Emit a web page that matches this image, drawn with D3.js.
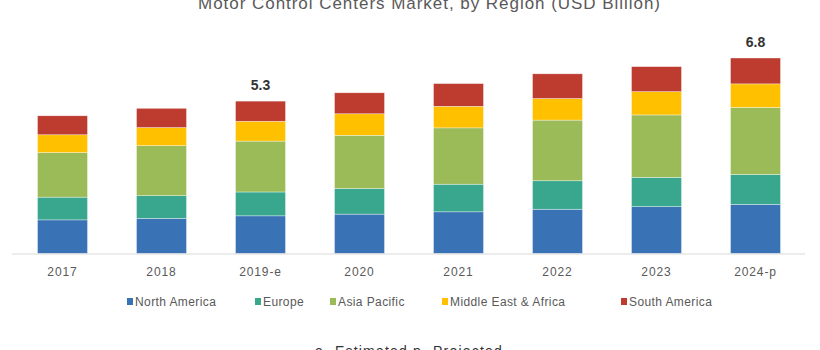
<!DOCTYPE html>
<html>
<head>
<meta charset="utf-8">
<script src="https://cdn.jsdelivr.net/npm/d3@7"></script>
<style>
  html, body { margin: 0; padding: 0; background: #fff; }
  svg { display: block; }
  text { font-family: "Liberation Sans", Arial, sans-serif; }
</style>
</head>
<body>
<svg id="chart" width="820" height="350"></svg>
<script>
// ---- data ----
const years = ["2017", "2018", "2019-e", "2020", "2021", "2022", "2023", "2024-p"];
const regions = ["North America", "Europe", "Asia Pacific", "Middle East & Africa", "South America"];
const northAmerica = [1.17, 1.22, 1.31, 1.37, 1.45, 1.54, 1.63, 1.71];
const europe       = [0.79, 0.79, 0.83, 0.89, 0.96, 0.99, 1.02, 1.04];
const asiaPacific  = [1.55, 1.74, 1.77, 1.85, 1.96, 2.11, 2.17, 2.33];
const middleEastAfrica = [0.62, 0.63, 0.69, 0.75, 0.75, 0.75, 0.81, 0.82];
const southAmerica = [0.66, 0.67, 0.70, 0.73, 0.79, 0.86, 0.87, 0.90];
const totalLabels = ["", "", "5.3", "", "", "", "", "6.8"];
const title = "Motor Control Centers Market, by Region (USD Billion)";
const footnote = "e- Estimated p- Projected";

const colors = ["#3a73b5", "#38a78e", "#9bbb59", "#ffc000", "#bd3b2f"];
const seriesValues = [northAmerica, europe, asiaPacific, middleEastAfrica, southAmerica];

const rows = years.map((y, i) => {
  const r = { year: y };
  regions.forEach((reg, k) => r[reg] = seriesValues[k][i]);
  return r;
});

const svg = d3.select("#chart");
const baseY = 253.5;

const x = d3.scaleBand().domain(years).range([13, 805]).paddingInner(0.495).paddingOuter(0.2475);
const y = d3.scaleLinear().domain([0, 1]).range([baseY, baseY - 28.75]);

const stack = d3.stack().keys(regions)(rows);

// bars
svg.append("g").selectAll("g").data(stack).join("g")
  .attr("fill", (d, i) => colors[i])
  .selectAll("rect").data(d => d).join("rect")
  .attr("x", d => x(d.data.year))
  .attr("width", x.bandwidth())
  .attr("y", d => y(d[1]))
  .attr("height", d => y(d[0]) - y(d[1]))
  .attr("stroke", "rgba(255,255,255,0.6)")
  .attr("stroke-width", 0.6);

// axis
const xAxis = d3.axisBottom(x).tickSize(0).tickPadding(14);
const gx = svg.append("g").attr("transform", `translate(0,${baseY})`).call(xAxis);
gx.select(".domain").attr("stroke", "#d9d9d9").attr("stroke-width", 1.2).attr("d", "M12,0.5H805");
gx.selectAll("text").attr("font-size", 12).attr("fill", "#595959").attr("letter-spacing", "0.9px");

// total labels
const totals = years.map((yr, i) => seriesValues.reduce((s, arr) => s + arr[i], 0));
svg.append("g").selectAll("text").data(years).join("text")
  .attr("x", d => x(d) + x.bandwidth() / 2)
  .attr("y", (d, i) => y(totals[i]) - 11)
  .attr("text-anchor", "middle")
  .attr("font-size", 14)
  .attr("font-weight", "bold")
  .attr("fill", "#333")
  .text((d, i) => totalLabels[i]);

// title
svg.append("text").attr("x", 429).attr("y", 9).attr("text-anchor", "middle")
  .attr("font-size", 17).attr("fill", "#595959")
  .attr("textLength", 462).attr("lengthAdjust", "spacing").text(title);

// legend
const legendX = [127, 255, 330, 442, 621];
const lg = svg.append("g").selectAll("g").data(regions).join("g")
  .attr("transform", (d, i) => `translate(${legendX[i]},306)`);
lg.append("rect").attr("x", 0).attr("y", -8).attr("width", 6).attr("height", 7)
  .attr("fill", (d, i) => colors[i]);
lg.append("text").attr("x", 8).attr("y", 0).attr("font-size", 12).attr("fill", "#595959")
  .attr("letter-spacing", "0.4px")
  .text(d => d);

// footnote
svg.append("text").attr("x", 409).attr("y", 356).attr("text-anchor", "middle")
  .attr("font-size", 14).attr("fill", "#333").attr("letter-spacing", "1.2px").text(footnote);
</script>
</body>
</html>
